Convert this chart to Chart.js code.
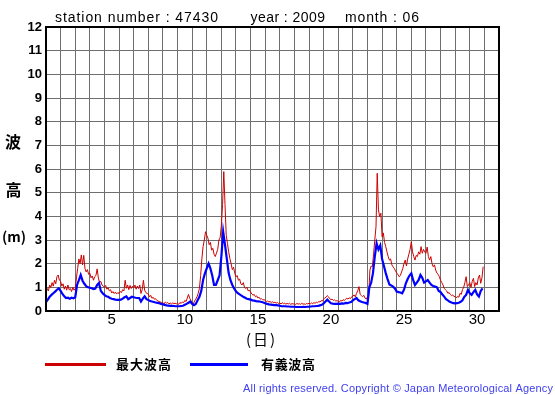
<!DOCTYPE html>
<html><head><meta charset="utf-8">
<script src="https://cdn.jsdelivr.net/npm/chart.js@4.4.0/dist/chart.umd.min.js"></script>
<style>html,body{margin:0;padding:0;background:#fff}</style>
</head><body>
<canvas id="c" width="555" height="395"></canvas>
<script>
// readings from June 1 00:00, one row per day
const maxStepHours = 2;
const sigStepHours = 3;
const maxWave = [
  0.74,0.95,0.85,1.1,1.0,1.2,1.05,1.3,1.15,1.45,1.52,1.3,
  1.25,1.05,1.15,0.92,1.05,0.88,1.1,0.9,0.95,0.82,1.0,0.88,
  0.95,1.4,1.8,2.2,2.0,2.37,1.95,2.35,1.8,1.65,1.75,1.55,
  1.6,1.4,1.48,1.3,1.45,1.5,1.78,1.4,1.2,1.25,1.1,1.05,
  1.0,1.08,0.92,0.98,0.85,0.9,0.76,0.82,0.74,0.8,0.72,0.78,
  0.74,0.82,0.78,0.9,0.85,1.3,0.96,1.1,0.9,1.08,0.95,1.05,
  0.98,1.1,0.92,1.05,0.95,1.1,0.74,0.9,1.3,0.88,0.78,0.74,
  0.72,0.6,0.66,0.54,0.58,0.5,0.52,0.45,0.42,0.4,0.38,0.36,
  0.35,0.3,0.38,0.33,0.36,0.3,0.34,0.29,0.35,0.31,0.33,0.3,
  0.33,0.28,0.36,0.32,0.38,0.35,0.45,0.4,0.55,0.7,0.54,0.45,
  0.35,0.3,0.42,0.5,0.6,0.75,0.96,1.5,2.2,2.72,3.0,3.35,
  3.2,3.07,2.8,2.9,2.57,2.65,2.4,2.3,2.45,2.6,3.0,3.1,
  3.6,4.5,5.89,4.5,3.2,2.86,2.5,2.22,2.0,1.75,1.85,1.6,
  1.45,1.5,1.3,1.35,1.15,1.1,1.2,1.0,0.95,1.0,0.85,0.88,
  0.8,0.72,0.67,0.7,0.6,0.64,0.55,0.58,0.5,0.52,0.47,0.48,
  0.45,0.4,0.42,0.38,0.4,0.36,0.39,0.35,0.37,0.33,0.36,0.32,
  0.34,0.3,0.35,0.31,0.33,0.29,0.32,0.3,0.33,0.28,0.31,0.3,
  0.3,0.27,0.32,0.29,0.31,0.28,0.33,0.29,0.3,0.28,0.32,0.3,
  0.33,0.3,0.34,0.31,0.35,0.33,0.37,0.35,0.4,0.38,0.44,0.42,
  0.5,0.56,0.58,0.65,0.6,0.52,0.48,0.5,0.45,0.47,0.42,0.44,
  0.4,0.38,0.45,0.42,0.48,0.44,0.5,0.54,0.5,0.56,0.52,0.6,
  0.62,0.68,0.6,0.75,0.85,1.03,0.7,0.65,0.61,0.66,0.55,0.5,
  0.6,0.65,1.73,1.9,1.87,2.4,3.0,3.56,5.82,4.27,3.99,4.13,
  3.14,3.3,2.9,2.72,2.5,2.3,2.15,2.2,1.95,1.87,1.8,1.7,
  1.6,1.55,1.45,1.5,1.65,1.8,2.01,2.15,1.9,2.2,2.4,2.6,
  2.93,2.5,2.3,2.15,2.35,2.3,2.5,2.4,2.72,2.44,2.6,2.5,
  2.44,2.7,2.3,2.15,2.3,2.0,1.87,1.95,1.73,1.6,1.55,1.45,
  1.3,1.2,1.1,0.96,0.9,0.85,0.75,0.78,0.7,0.65,0.68,0.61,
  0.61,0.55,0.62,0.58,0.75,0.7,0.9,1.0,1.2,1.45,1.03,1.1,
  1.2,1.0,1.25,1.38,1.03,1.2,1.1,1.4,1.52,1.17,1.4,1.87
];
const sigWave = [
  0.38,0.48,0.6,0.68,0.75,0.82,0.9,0.96,
  0.85,0.72,0.62,0.55,0.56,0.52,0.56,0.54,
  0.58,1.1,1.3,1.52,1.28,1.15,1.05,1.0,
  0.98,0.96,0.93,0.95,1.1,1.18,0.85,0.75,
  0.68,0.62,0.6,0.55,0.52,0.5,0.48,0.47,
  0.47,0.48,0.52,0.58,0.62,0.5,0.55,0.6,
  0.58,0.56,0.55,0.55,0.4,0.52,0.62,0.5,
  0.47,0.42,0.4,0.38,0.36,0.34,0.33,0.3,
  0.28,0.26,0.24,0.23,0.22,0.22,0.21,0.2,
  0.2,0.2,0.21,0.22,0.26,0.3,0.35,0.4,
  0.3,0.25,0.3,0.45,0.6,0.85,1.31,1.59,
  1.8,2.0,1.8,1.5,1.1,1.1,1.3,1.5,
  2.3,3.35,2.8,2.2,1.6,1.3,1.1,0.95,
  0.83,0.75,0.7,0.65,0.6,0.56,0.52,0.5,
  0.48,0.45,0.44,0.42,0.41,0.4,0.38,0.36,
  0.33,0.3,0.28,0.27,0.26,0.25,0.25,0.24,
  0.22,0.2,0.2,0.2,0.19,0.19,0.18,0.18,
  0.18,0.17,0.17,0.17,0.17,0.18,0.17,0.18,
  0.18,0.19,0.2,0.2,0.21,0.22,0.24,0.26,
  0.32,0.4,0.48,0.4,0.33,0.31,0.3,0.3,
  0.31,0.3,0.32,0.31,0.34,0.33,0.36,0.38,
  0.45,0.5,0.55,0.45,0.41,0.38,0.36,0.34,
  0.3,1.0,1.2,1.6,2.3,2.86,2.6,2.77,
  2.2,1.9,1.6,1.35,1.12,1.08,1.03,0.95,
  0.82,0.8,0.78,0.75,0.9,1.17,1.35,1.5,
  1.59,1.3,1.1,1.2,1.31,1.52,1.4,1.2,
  1.25,1.31,1.2,1.1,1.06,1.03,1.0,0.85,
  0.8,0.7,0.61,0.5,0.45,0.39,0.36,0.33,
  0.32,0.33,0.35,0.39,0.45,0.6,0.68,0.89,
  0.75,0.68,0.8,0.89,0.7,0.61,0.85,0.96
];
const dayLabels = [5, 10, 15, 20, 25, 30];
const seriesNames = ['最大波高', '有義波高'];

function toPoints(arr, stepHours){
  return arr.map((v, i) => ({ x: i * stepHours / 24, y: v }));
}

function fitText(ctx, str, x, y, font, color, width, base){
  ctx.save();
  ctx.font = font;
  ctx.fillStyle = color;
  ctx.textAlign = 'left';
  ctx.textBaseline = base || 'middle';
  ctx.letterSpacing = '0px';
  if (width) {
    const w = ctx.measureText(str).width;
    ctx.letterSpacing = ((width - w) / Math.max(1, str.length - 1)) + 'px';
  }
  ctx.fillText(str, x, y);
  ctx.restore();
}

const decor = {
  id: 'decor',
  afterDraw(chart){
    const ctx = chart.ctx;
    const a = chart.chartArea;
    // frame
    ctx.save();
    ctx.strokeStyle = '#000';
    ctx.lineWidth = 2;
    ctx.strokeRect(a.left, a.top, a.right - a.left, a.bottom - a.top);
    ctx.restore();

    const sans = '"Liberation Sans", Arial, sans-serif';
    const cjk = '"Noto Sans CJK JP", sans-serif';
    fitText(ctx, 'station number : 47430', 55, 21.5, '14px ' + sans, '#000', 163, 'alphabetic');
    fitText(ctx, 'year : 2009', 250.5, 21.5, '14px ' + sans, '#000', 74.5, 'alphabetic');
    fitText(ctx, 'month : 06', 345, 21.5, '14px ' + sans, '#000', 74, 'alphabetic');

    ctx.save();
    ctx.fillStyle = '#000';
    ctx.textAlign = 'center';
    ctx.textBaseline = 'middle';
    ctx.font = 'bold 16px ' + cjk;
    ctx.fillText('波', 13, 142);
    ctx.fillText('高', 13.5, 190);
    ctx.font = 'bold 14px ' + cjk;
    ctx.fillText('(m)', 14, 237);
    ctx.restore();

    fitText(ctx, '(日)', 246, 339.5, '15px ' + cjk, '#000', 29);

    ctx.save();
    ctx.fillStyle = '#cc0000';
    ctx.fillRect(45, 363, 61, 3);
    ctx.fillStyle = '#0000ff';
    ctx.fillRect(190, 363, 58, 3);
    ctx.restore();
    fitText(ctx, seriesNames[0], 116, 364.5, 'bold 13px ' + cjk, '#000', 55);
    fitText(ctx, seriesNames[1], 261, 364.5, 'bold 13px ' + cjk, '#000', 54);

    fitText(ctx, 'All rights reserved. Copyright \u00a9 Japan Meteorological Agency', 243, 391.5,
      '11px ' + sans, '#4040f0', 310, 'alphabetic');
  }
};

new Chart(document.getElementById('c'), {
  type: 'line',
  data: {
    datasets: [
      { label: seriesNames[1], data: toPoints(sigWave, sigStepHours), borderColor: '#0000ff', borderWidth: 2.2,
        pointRadius: 0, tension: 0, fill: false },
      { label: seriesNames[0], data: toPoints(maxWave, maxStepHours), borderColor: '#cc0000', borderWidth: 1,
        pointRadius: 0, tension: 0, fill: false }
    ]
  },
  options: {
    responsive: false,
    animation: false,
    events: [],
    layout: { padding: { left: 0, right: 56, top: 27, bottom: 62 } },
    plugins: { legend: { display: false }, title: { display: false }, tooltip: { enabled: false } },
    scales: {
      x: {
        type: 'linear', min: 0, max: 31,
        afterBuildTicks: s => { s.ticks = Array.from({ length: 32 }, (_, i) => ({ value: i })); },
        afterFit: s => { s.height = 22; },
        ticks: {
          autoSkip: false, maxRotation: 0, padding: 0, labelOffset: -7.3, color: '#000',
          font: { family: '"Liberation Sans", Arial, sans-serif', size: 15 },
          callback: v => dayLabels.includes(v) ? String(v) : ''
        },
        grid: { color: '#6e6e6e', lineWidth: 1, drawTicks: false },
        border: { color: '#000', width: 2 }
      },
      y: {
        min: 0, max: 12,
        afterBuildTicks: s => { s.ticks = Array.from({ length: 13 }, (_, i) => ({ value: i })); },
        afterFit: s => { s.width = 46; },
        ticks: {
          padding: 4, color: '#000',
          font: { family: '"Liberation Sans", Arial, sans-serif', size: 13, weight: 'bold' }
        },
        grid: { color: '#6e6e6e', lineWidth: 1, drawTicks: false },
        border: { color: '#000', width: 2 }
      }
    }
  },
  plugins: [decor]
});
</script>
</body></html>
